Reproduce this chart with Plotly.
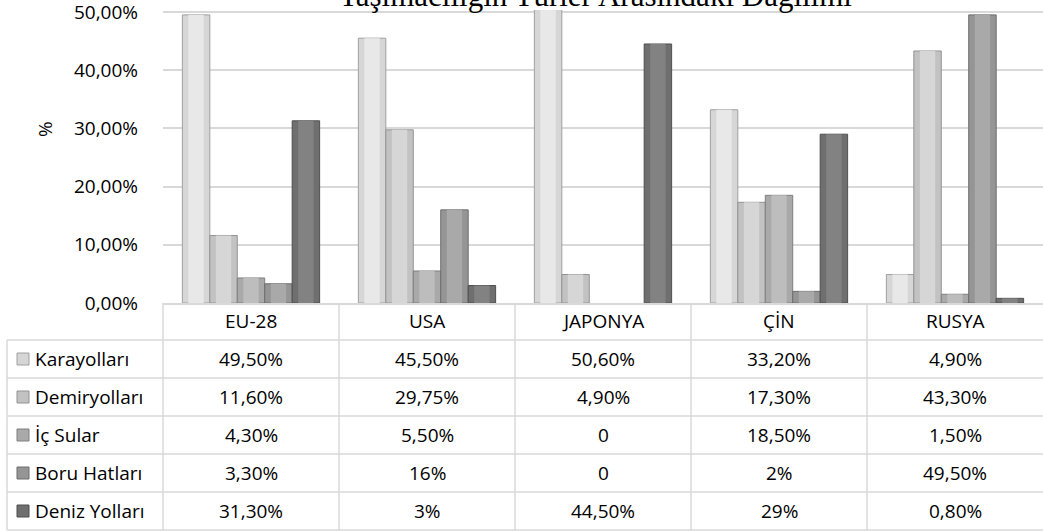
import plotly.graph_objects as go

# Data
countries = ["EU-28", "USA", "JAPONYA", "ÇİN", "RUSYA"]
modes = ["Karayolları", "Demiryolları", "İç Sular", "Boru Hatları", "Deniz Yolları"]
karayollari = [49.5, 45.5, 50.6, 33.2, 4.9]
demiryollari = [11.6, 29.75, 4.9, 17.3, 43.3]
ic_sular = [4.3, 5.5, 0, 18.5, 1.5]
boru_hatlari = [3.3, 16, 0, 2, 49.5]
deniz_yollari = [31.3, 3, 44.5, 29, 0.8]
y_ticks = [0, 10, 20, 30, 40, 50]

series = [karayollari, demiryollari, ic_sular, boru_hatlari, deniz_yollari]
colors = ["#d6d6d6", "#c2c2c2", "#a9a9a9", "#959595", "#6f6f6f"]
lights = ["#e8e8e8", "#d6d6d6", "#bdbdbd", "#a9a9a9", "#828282"]
edges = ["#a0a0a0", "#929292", "#7e7e7e", "#6c6c6c", "#4e4e4e"]

W, H = 1043, 531
L, R, T, B = 163, 0, 10, 228
PW, PH = W - L - R, H - T - B
FONT = "Open Sans"
FS = 19
GRID = "#d9d9d9"
Y_TOP = 50.34

# bar geometry in category units
GROUP = 0.78
BW = GROUP / len(series)


def px(xp):
    return (xp - L) / PW


def py(yp):
    return (H - B - yp) / PH


def fmt(v):
    if v == 0:
        return "0"
    if float(v).is_integer():
        return f"{int(v)}%"
    return f"{v:.2f}%".replace(".", ",")


tick_text = [f"{t:.2f}%".replace(".", ",") for t in y_ticks]

fig = go.Figure()
for i, (name, vals, c, lt, e) in enumerate(zip(modes, series, colors, lights, edges)):
    off = -GROUP / 2 + i * BW
    # column body (no outline on empty columns)
    fig.add_trace(go.Bar(
        x=countries, y=vals, name=name, width=BW, offset=off,
        marker=dict(color=c, line=dict(color=e, width=[0 if v == 0 else 1 for v in vals])),
        showlegend=False,
    ))
    # lighter face highlight
    fig.add_trace(go.Bar(
        x=countries, y=vals, name=name, width=BW * 0.56, offset=off + BW * 0.22,
        marker=dict(color=lt, line=dict(width=0)),
        showlegend=False, hoverinfo="skip",
    ))

shapes = []
annotations = []

# table grid lines
row_edges = [340, 378, 416, 454, 492, 530]
col_edges = [163, 339, 515, 691, 867]
for yy in row_edges:
    shapes.append(dict(type="line", xref="paper", yref="paper",
                       x0=px(7), x1=px(1043), y0=py(yy), y1=py(yy),
                       line=dict(color=GRID, width=1.5)))
shapes.append(dict(type="line", xref="paper", yref="paper",
                   x0=px(7), x1=px(7), y0=py(340), y1=py(530),
                   line=dict(color=GRID, width=1.5)))
for xx in col_edges:
    shapes.append(dict(type="line", xref="paper", yref="paper",
                       x0=px(xx), x1=px(xx), y0=py(303), y1=py(530),
                       line=dict(color=GRID, width=1.5)))

# column headers
for cat in countries:
    annotations.append(dict(x=cat, xref="x", y=py(321), yref="paper",
                            text=cat, showarrow=False,
                            font=dict(family=FONT, size=FS, color="#000"),
                            xanchor="center", yanchor="middle"))

# rows: legend key, series name, values
row_centers = [359, 397, 435, 473, 511]
for name, vals, c, e, yc in zip(modes, series, colors, edges, row_centers):
    shapes.append(dict(type="rect", xref="paper", yref="paper",
                       x0=px(17), x1=px(29), y0=py(yc - 6), y1=py(yc + 6),
                       fillcolor=c, line=dict(color=e, width=1)))
    annotations.append(dict(x=px(33), xref="paper", y=py(yc), yref="paper",
                            text=name, showarrow=False,
                            font=dict(family=FONT, size=FS, color="#000"),
                            xanchor="left", yanchor="middle"))
    for cat, v in zip(countries, vals):
        annotations.append(dict(x=cat, xref="x", y=py(yc), yref="paper",
                                text=fmt(v), showarrow=False,
                                font=dict(family=FONT, size=FS, color="#000"),
                                xanchor="center", yanchor="middle"))

# axis title
annotations.append(dict(x=px(45), xref="paper", y=py(129), yref="paper",
                        text="%", textangle=-90, showarrow=False,
                        font=dict(family=FONT, size=FS, color="#000"),
                        xanchor="center", yanchor="middle"))

# chart title
annotations.append(dict(x=px(595), xref="paper", y=py(15), yref="paper",
                        text="Taşımacılığın Türler Arasındaki Dağılımı",
                        showarrow=False,
                        font=dict(family="Liberation Serif", size=31, color="#000"),
                        xanchor="center", yanchor="bottom"))

fig.update_layout(
    width=W, height=H,
    margin=dict(l=L, r=R, t=T, b=B, pad=0),
    paper_bgcolor="white", plot_bgcolor="white",
    barmode="overlay",
    shapes=shapes, annotations=annotations,
    xaxis=dict(showticklabels=False, ticks="", showgrid=False,
               showline=True, linecolor=GRID, linewidth=1.5, zeroline=False),
    yaxis=dict(range=[0, Y_TOP], tickmode="array", tickvals=y_ticks,
               ticktext=tick_text, ticklabeloverflow="allow",
               showgrid=True, gridcolor=GRID, gridwidth=2,
               zeroline=False, showline=False, ticks="",
               ticklabelstandoff=24,
               tickfont=dict(family=FONT, size=FS, color="#000")),
)

fig.write_html("out.html")
